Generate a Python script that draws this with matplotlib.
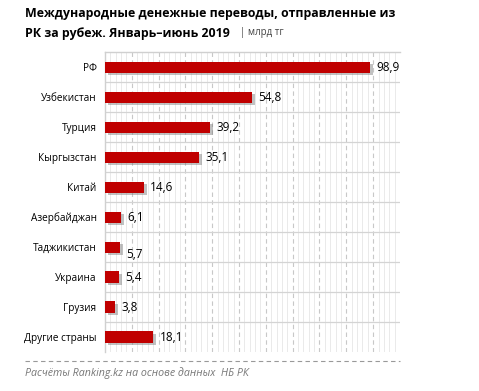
import matplotlib.pyplot as plt
import matplotlib.patheffects as pe
import numpy as np

plt.rcParams['font.family'] = ['Open Sans', 'DejaVu Sans']

countries = ['РФ', 'Узбекистан', 'Турция', 'Кыргызстан', 'Китай', 'Азербайджан',
             'Таджикистан', 'Украина', 'Грузия', 'Другие страны']
values = [98.9, 54.8, 39.2, 35.1, 14.6, 6.1, 5.7, 5.4, 3.8, 18.1]
value_labels = ['98,9', '54,8', '39,2', '35,1', '14,6', '6,1', '5,7', '5,4', '3,8', '18,1']

fig = plt.figure(figsize=(4.79, 3.91), dpi=100)
ax = fig.add_axes([0.219, 0.0997, 0.616, 0.767])

y = np.arange(len(countries))
bars = ax.barh(y, values, height=0.37, color='#C00000', zorder=3)
for b in bars:
    b.set_path_effects([pe.SimplePatchShadow(offset=(2, -2), shadow_rgbFace='#777777', alpha=0.45),
                        pe.Normal()])

for yi, v, lab in zip(y, values, value_labels):
    dy = 0.25 if lab == '5,7' else 0  # label sits a bit low in the original
    ax.text(v + 2.3, yi + dy, lab, va='center', ha='left', fontsize=8.5, color='black', zorder=4)

ax.set_xlim(0, 110)
ax.set_ylim(len(countries) - 0.5, -0.5)
ax.set_yticks(y)
ax.set_yticklabels(countries, fontsize=7.2)
ax.tick_params(axis='y', length=0, pad=6)
ax.set_xticks([])

# grid
for x in np.arange(2, 110, 2):
    if x % 10 == 0:
        ax.axvline(x, color='#c8c8c8', lw=0.8, ls=(0, (4, 3)), zorder=1)
    else:
        ax.axvline(x, color='#e6e6e6', lw=0.6, zorder=1)
for k in range(len(countries) - 1):
    ax.axhline(k + 0.5, color='#d4d4d4', lw=0.9, zorder=2)

for s in ['right', 'bottom']:
    ax.spines[s].set_visible(False)
for s in ['top', 'left']:
    ax.spines[s].set_color('#d0d0d0')
    ax.spines[s].set_linewidth(1.0)

fig.text(25 / 479, 1 - 13 / 391, 'Международные денежные переводы, отправленные из',
         fontsize=8.9, fontweight='bold', va='center', ha='left')
fig.text(25 / 479, 1 - 33 / 391, 'РК за рубеж. Январь–июнь 2019',
         fontsize=8.9, fontweight='bold', va='center', ha='left')
fig.text(240 / 479, 1 - 33 / 391, '| млрд тг', fontsize=7, color='#444444',
         va='center', ha='left')

fig.add_artist(plt.Line2D([25 / 479, 400 / 479], [1 - 361 / 391, 1 - 361 / 391],
                          color='#999999', lw=0.8, ls=(0, (4, 3))))
fig.text(25 / 479, 1 - 373 / 391, 'Расчёты Ranking.kz на основе данных  НБ РК',
         fontsize=7.7, style='italic', color='#777777', va='center', ha='left')

fig.savefig('out.png', dpi=100)
